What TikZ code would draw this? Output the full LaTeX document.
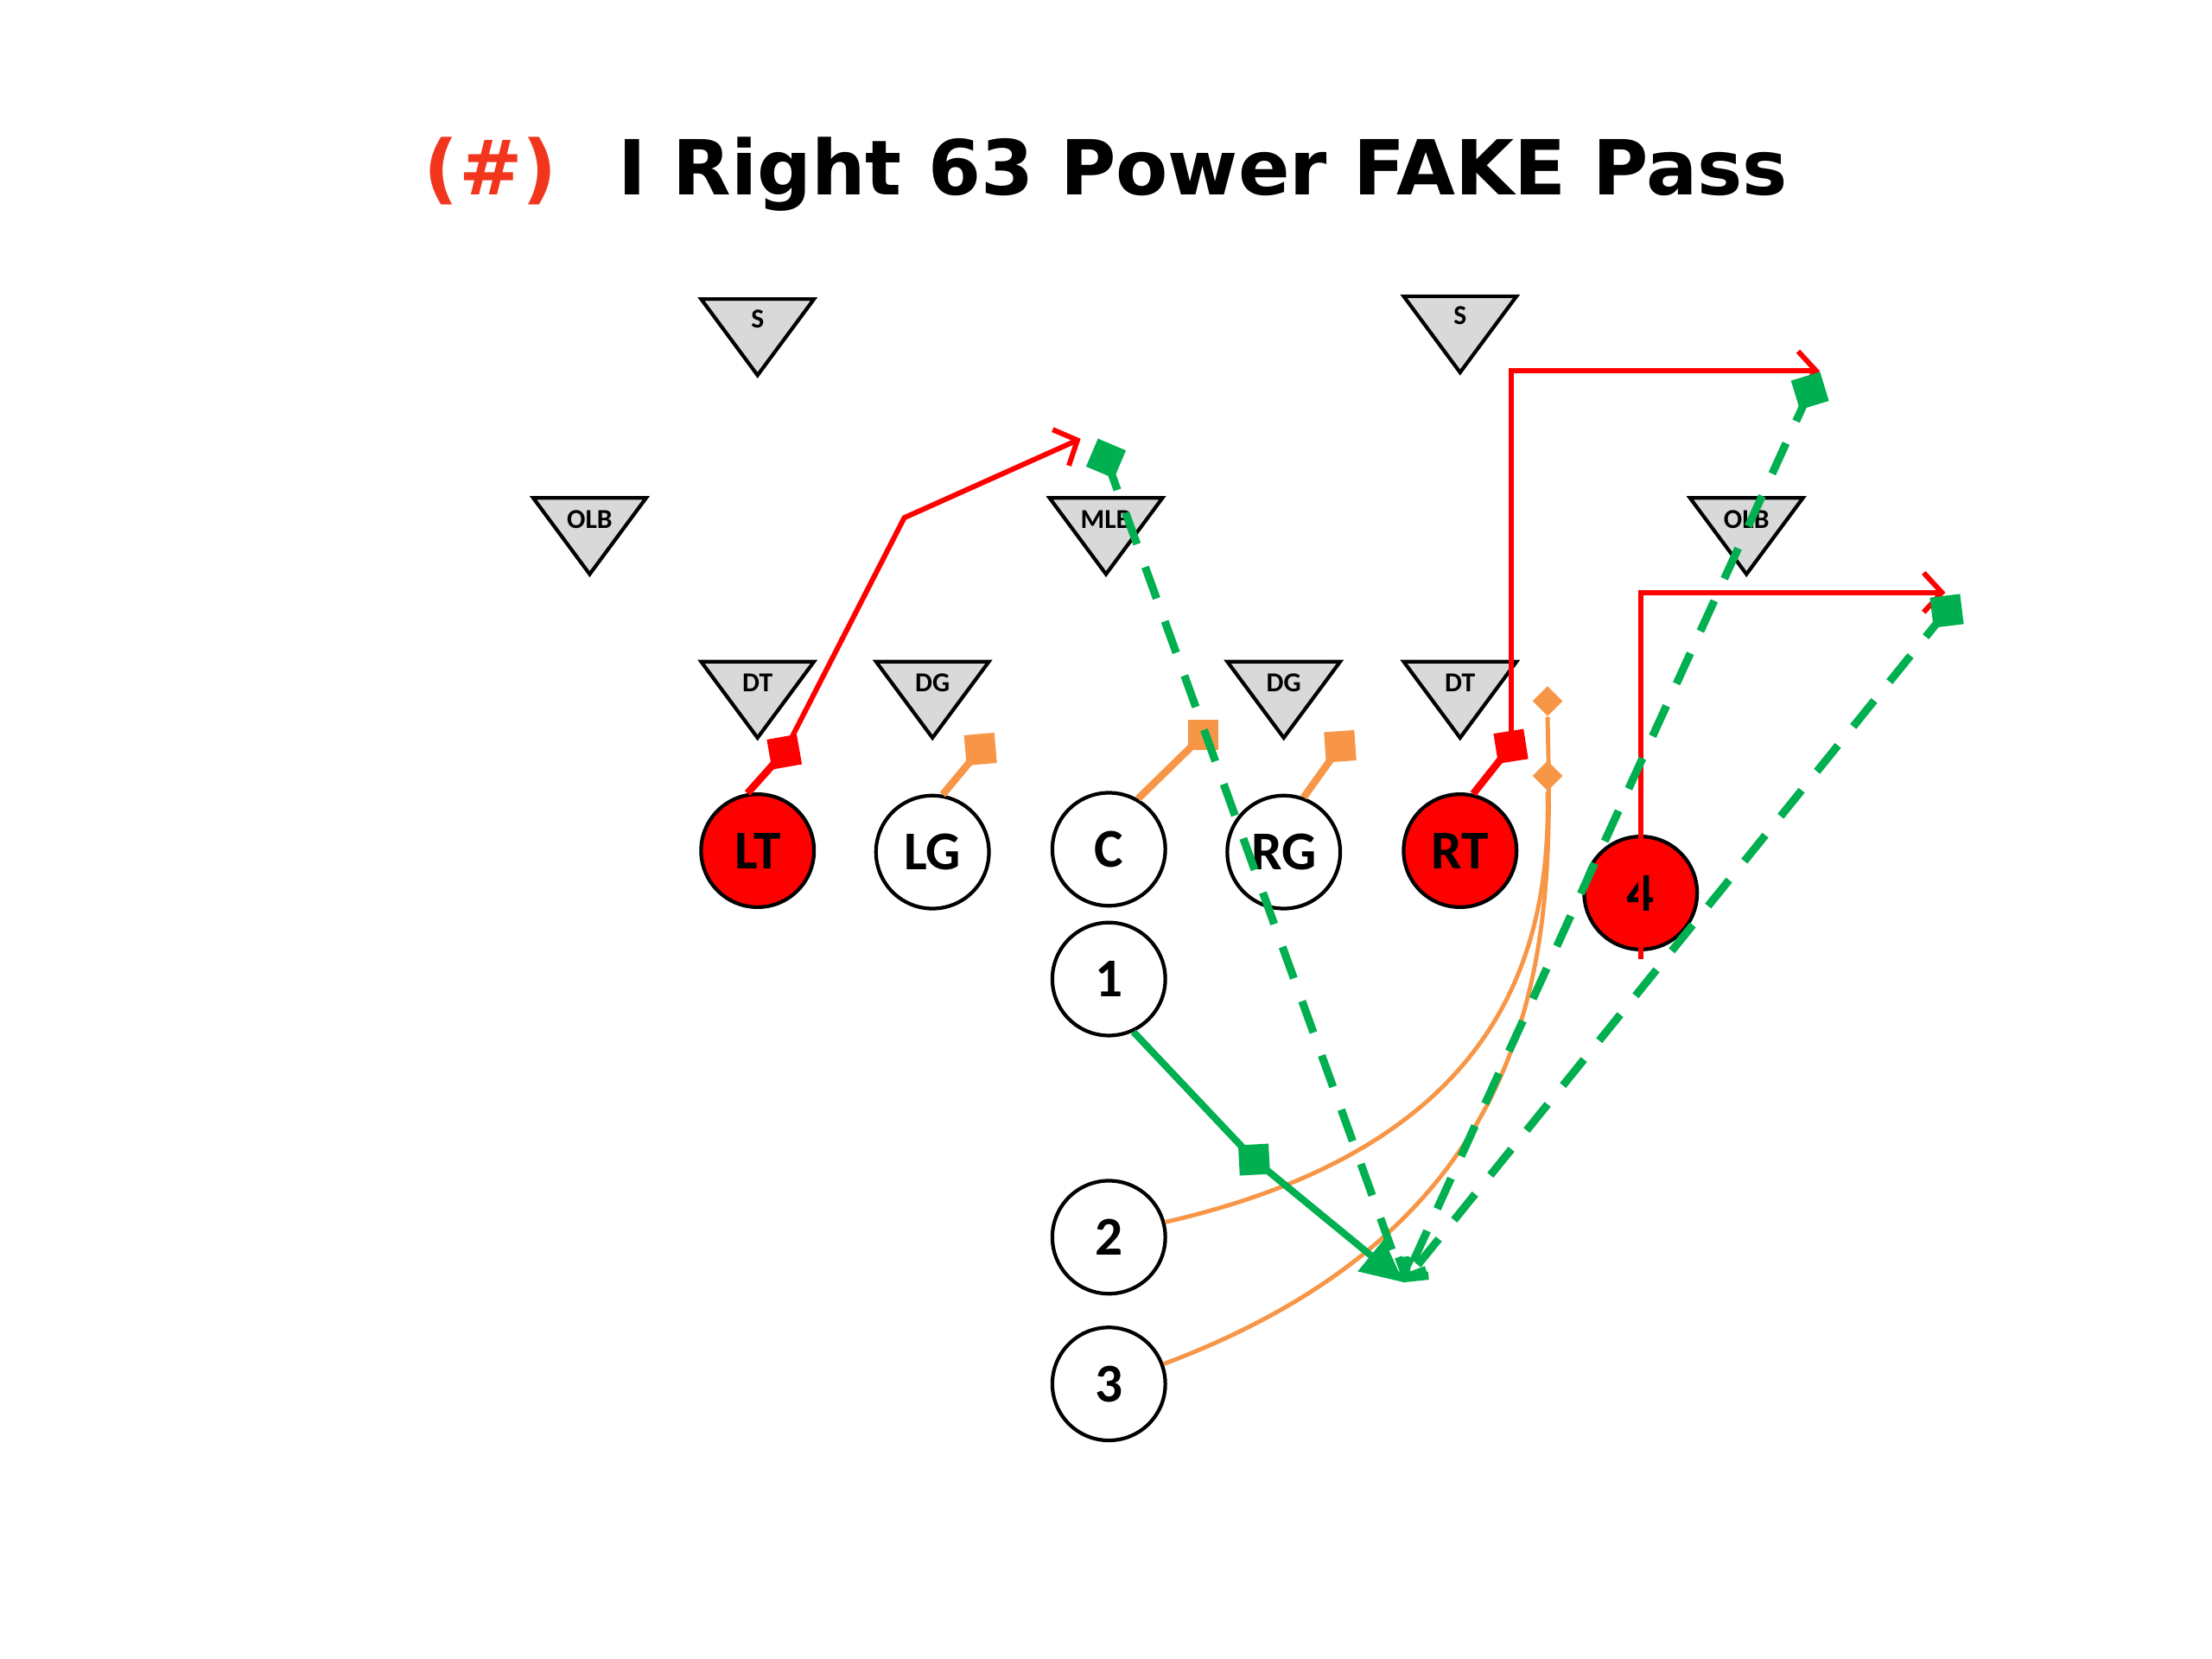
\documentclass[tikz,border=0pt]{standalone}
\usepackage{fontspec}
\setmainfont{Carlito}
\newfontfamily\titlefont{DejaVu Sans}
\usetikzlibrary{arrows.meta,shapes.geometric}

\definecolor{routeRed}{HTML}{FF0000}
\definecolor{titleRed}{HTML}{F2361E}
\definecolor{passGreen}{HTML}{00B050}
\definecolor{blockOrange}{HTML}{F79646}
\definecolor{defGrey}{HTML}{D9D9D9}

\tikzset{
	titletext/.style={inner sep=0pt, font=\titlefont\bfseries\fontsize{25}{27}\selectfont},
	player/.style={circle, draw=black, line width=1.2pt, fill=white, minimum size=37.2pt, inner sep=0pt, font=\bfseries\fontsize{18}{20}\selectfont},
	hotplayer/.style={player, fill=routeRed},
	defender/.style={draw=black, line width=1.2pt, fill=defGrey, line join=miter},
	deflabel/.style={inner sep=0pt, font=\bfseries\fontsize{9}{10}\selectfont},
	blocksq/.style={rectangle, minimum size=10pt, inner sep=0pt},
	fakedia/.style={diamond, minimum size=10pt, inner sep=0pt, fill=blockOrange},
	blockline/.style={line width=2.4pt},
	redroute/.style={draw=routeRed, line width=1.7pt, line join=miter, -{Straight Barb[length=6pt,width=13pt]}},
	fakeline/.style={draw=blockOrange, line width=1.4pt},
	passline/.style={draw=passGreen, line width=2.3pt, -{Triangle[length=14pt,width=13pt]}},
	dashroute/.style={draw=passGreen, line width=2.6pt, dash pattern=on 11pt off 8pt, -{Straight Barb[length=5pt,width=10pt]}}
}

\begin{document}
\begin{tikzpicture}[x=0.01633cm, y=-0.01633cm]
	\useasboundingbox (0,0) rectangle (1568,1176);
	\node[titletext, anchor=base] (title) at (784,138) {{\color{titleRed}(\#)}\hspace{0.8em}I Right 63 Power FAKE Pass};

	% defense
	\filldraw[defender] (497,212) -- (577,212) -- (537,266) -- cycle;
	\node[deflabel] (sleft) at (537,226) {S};
	\filldraw[defender] (995,210) -- (1075,210) -- (1035,264) -- cycle;
	\node[deflabel] (sright) at (1035,224) {S};
	\filldraw[defender] (378,353) -- (458,353) -- (418,407) -- cycle;
	\node[deflabel] (olbleft) at (418,368) {OLB};
	\filldraw[defender] (744,353) -- (824,353) -- (784,407) -- cycle;
	\node[deflabel] (mlb) at (784,368) {MLB};
	\filldraw[defender] (1198,353) -- (1278,353) -- (1238,407) -- cycle;
	\node[deflabel] (olbright) at (1238,368) {OLB};
	\filldraw[defender] (497,469) -- (577,469) -- (537,523) -- cycle;
	\node[deflabel] (dtleft) at (537,484) {DT};
	\filldraw[defender] (621,469) -- (701,469) -- (661,523) -- cycle;
	\node[deflabel] (dgleft) at (661,484) {DG};
	\filldraw[defender] (870,469) -- (950,469) -- (910,523) -- cycle;
	\node[deflabel] (dgright) at (910,484) {DG};
	\filldraw[defender] (995,469) -- (1075,469) -- (1035,523) -- cycle;
	\node[deflabel] (dtright) at (1035,484) {DT};

	% offense
	\node[hotplayer] (LT) at (537,603) {LT};
	\node[player] (LG) at (661,604) {LG};
	\node[player] (C) at (786,602) {C};
	\node[player] (RG) at (910,604) {RG};
	\node[hotplayer] (RT) at (1035,603) {RT};
	\node[hotplayer] (four) at (1163,633) {4};
	\node[player] (one) at (786,694) {1};
	\node[player] (two) at (786,877) {2};
	\node[player] (three) at (786,981) {3};

	% blocks
	\node[blocksq, fill=routeRed, rotate=10] (ltblock) at (556,533) {};
	\node[blocksq, fill=blockOrange, rotate=5] (lgblock) at (695,531) {};
	\node[blocksq, fill=blockOrange] (cblock) at (853,521) {};
	\node[blocksq, fill=blockOrange, rotate=4] (rgblock) at (950,529) {};
	\node[blocksq, fill=routeRed, rotate=9] (rtblock) at (1071,529) {};
	\draw[blockline, routeRed] (LT.100) -- (ltblock.center);
	\draw[blockline, blockOrange] (LG.80) -- (lgblock.center);
	\draw[blockline, blockOrange] (C.60) -- (cblock.center);
	\draw[blockline, blockOrange] (RG.70) -- (rgblock.center);
	\draw[blockline, routeRed] (RT.77) -- (rtblock.center);

	% fakes
	\node[fakedia] (lowfake) at (1097,550) {};
	\node[fakedia] (highfake) at (1097,497) {};
	\draw[fakeline] (two.15) .. controls (1050,815) and (1100,690) .. (lowfake.south);
	\draw[fakeline] (three.20) .. controls (1110,860) and (1100,650) .. (highfake.south);

	% routes
	\coordinate (ltbreak) at (641,367);
	\coordinate (ltend) at (766,311);
	\coordinate (rtend) at (1290,263);
	\coordinate (fourtail) at (1163,680);
	\coordinate (fourend) at (1379,420);
	\coordinate (catch) at (995,909);
	\draw[redroute] (ltblock.center) -- (ltbreak) -- (ltend);
	\draw[redroute] (rtblock.center) |- (rtend);
	\draw[redroute] (fourtail) |- (fourend);

	% pass reads
	\node[blocksq, fill=passGreen, rotate=-23] (mlbread) at (784,325) {};
	\node[blocksq, fill=passGreen, rotate=17] (deepread) at (1283,277) {};
	\node[blocksq, fill=passGreen, rotate=7] (flatread) at (1380,433) {};
	\node[blocksq, fill=passGreen, rotate=3] (dropread) at (889,822) {};
	\draw[dashroute] (mlbread.center) -- (catch);
	\draw[dashroute] (deepread.center) -- (catch);
	\draw[dashroute] (flatread.center) -- (catch);
	\draw[passline] (one.-65) -- (dropread.center) -- (catch);
\end{tikzpicture}
\end{document}
